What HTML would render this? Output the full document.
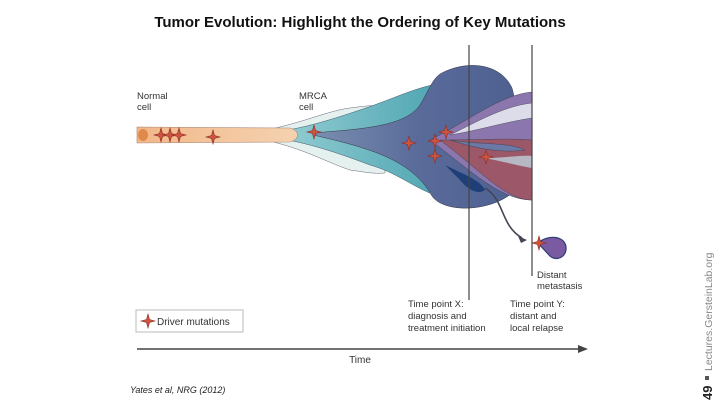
<!DOCTYPE html>
<html><head><meta charset="utf-8"><style>
body{margin:0;width:720px;height:405px;background:#fff;overflow:hidden;font-family:"Liberation Sans",sans-serif}
</style></head><body>
<svg width="720" height="405" viewBox="0 0 720 405">
<defs>
<linearGradient id="blob" x1="0" x2="1"><stop offset="0" stop-color="#7a8fb0"/><stop offset="0.5" stop-color="#5a6b9a"/><stop offset="1" stop-color="#4d6090"/></linearGradient>
<linearGradient id="cyan" x1="0" x2="1"><stop offset="0" stop-color="#9fd3d8"/><stop offset="1" stop-color="#4aa3b0"/></linearGradient>
<linearGradient id="org" x1="0" x2="1"><stop offset="0" stop-color="#f2b889"/><stop offset="1" stop-color="#f5d2b0"/></linearGradient>
<g id="star"><path d="M0,-7 L1.5,-1.5 L7,0 L1.5,1.5 L0,7 L-1.5,1.5 L-7,0 L-1.5,-1.5Z" fill="#d0533f" stroke="#8a2f28" stroke-width="0.6"/></g>
</defs>
<text x="360" y="27" text-anchor="middle" font-size="15" font-weight="bold" fill="#111">Tumor Evolution: Highlight the Ordering of Key Mutations</text>

<g>
<path d="M230,135 C290,130 320,112 350,108 C365,106 372,105 385,106 L385,173 C372,174 365,172 350,170 C320,160 290,140 230,135Z" fill="#e4f1ef" stroke="#667" stroke-width="0.5"/>
<path d="M255,135 C300,130 330,120 360,110 C390,100 410,90 432,85 L450,85 L450,196 L432,194 C410,185 395,172 370,165 C330,150 300,140 255,135Z" fill="url(#cyan)" stroke="#456" stroke-width="0.5"/>
<path d="M137,127 L290,128 C300,131 300,139 290,142 L137,143Z" fill="url(#org)" stroke="#a87" stroke-width="0.6"/>
<ellipse cx="143" cy="135" rx="5" ry="6" fill="#e08a4a"/>
<path d="M313,133 C360,129 405,127 420,105 C430,88 432,80 440,74 C465,60 500,62 512,88 L520,120 L520,185 C500,212 445,215 432,196 C412,160 370,148 313,135Z" fill="url(#blob)" stroke="#334" stroke-width="0.5"/>
<path d="M430,140 C470,120 500,95 532,92 L532,200 C500,200 470,170 430,140Z" fill="#8b76ad" stroke="#445" stroke-width="0.5"/>
<path d="M450,135 C480,120 505,106 532,103 L532,118 C505,122 480,130 450,135Z" fill="#dcdcea" stroke="#556" stroke-width="0.5"/>
<path d="M440,140 C480,140 510,138 532,140 L532,200 C505,200 480,170 440,140Z" fill="#9c5868" stroke="#445" stroke-width="0.5"/>
<path d="M450,140 C480,145 510,142 525,150 C505,153 480,150 450,140Z" fill="#6a79a5" stroke="#445" stroke-width="0.5"/>
<path d="M485,158 C505,158 520,155 532,156 L532,168 C520,166 505,162 485,158Z" fill="#b8b8c4"/>
<path d="M445,165 C465,175 480,180 485,190 C478,195 468,190 460,180Z" fill="#1f3f78"/>
<line x1="469" y1="45" x2="469" y2="300" stroke="#444" stroke-width="1.2"/>
<line x1="532" y1="45" x2="532" y2="276" stroke="#444" stroke-width="1.2"/>
<path d="M485,188 C505,200 500,225 522,238" fill="none" stroke="#445" stroke-width="1.6"/>
<path d="M527,240 L518,236 L521,243Z" fill="#445"/>
<path d="M538,243 C548,234 565,236 566,247 C567,258 555,262 549,255Z" fill="#7a5aa0" stroke="#2a3f78" stroke-width="1.2"/>
<use href="#star" x="161" y="135"/><use href="#star" x="170" y="135"/><use href="#star" x="179" y="135"/><use href="#star" x="213" y="137"/>
<use href="#star" x="314" y="132"/><use href="#star" x="409" y="143"/><use href="#star" x="435" y="141"/><use href="#star" x="446" y="132"/><use href="#star" x="435" y="156"/><use href="#star" x="486" y="157"/><use href="#star" x="539" y="243"/>
</g>
<g font-size="9.5" fill="#333">
<text x="137" y="99">Normal</text><text x="137" y="110">cell</text>
<text x="299" y="99">MRCA</text><text x="299" y="110">cell</text>
<text x="537" y="278">Distant</text><text x="537" y="289">metastasis</text>
<text x="408" y="307">Time point X:</text><text x="408" y="319">diagnosis and</text><text x="408" y="331">treatment initiation</text>
<text x="510" y="307">Time point Y:</text><text x="510" y="319">distant and</text><text x="510" y="331">local relapse</text>
</g>
<g>
<rect x="136" y="310" width="107" height="22" fill="#fff" stroke="#bbb"/>
<use href="#star" x="148" y="321"/>
<text x="157" y="325" font-size="10" fill="#333">Driver mutations</text>
</g>
<g>
<line x1="137" y1="349" x2="580" y2="349" stroke="#444" stroke-width="1.5"/>
<path d="M588,349 L578,345 L578,353Z" fill="#444"/>
<text x="360" y="363" font-size="10" fill="#333" text-anchor="middle">Time</text>
</g>
<text x="130" y="393" font-size="9" font-style="italic" fill="#222">Yates et al, NRG (2012)</text>
<g transform="translate(712,400) rotate(-90)">
<text x="0" y="0" font-size="13" font-weight="bold" fill="#222">49</text>
<rect x="20" y="-7" width="4" height="4" fill="#555"/>
<text x="29" y="0" font-size="10.5" fill="#888">Lectures.GersteinLab.org</text>
</g>
</svg>
</body></html>
